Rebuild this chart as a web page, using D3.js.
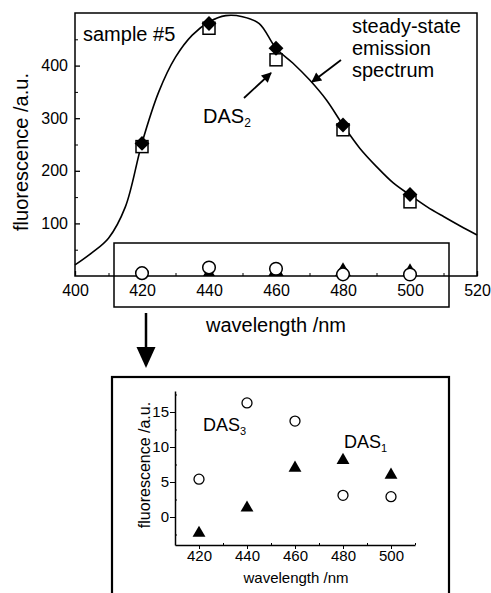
<!DOCTYPE html>
<html>
<head>
<meta charset="utf-8">
<script src="https://cdn.jsdelivr.net/npm/d3@7"></script>
<style>
  body { margin: 0; background: #fff; }
  svg { display: block; }
  text { font-family: "Liberation Sans", Arial, sans-serif; fill: #000; }
  .axis path, .axis line { stroke: #000; }
</style>
</head>
<body>
<div id="chart"></div>
<script>
const width = 491;
const height = 593;

// sampled wavelengths (nm)
const wavelengths = [420, 440, 460, 480, 500];
// steady-state intensity at the sampled wavelengths (filled diamonds)
const steadyPts = [252, 480, 433, 287, 155];
// DAS2 (open squares)
const das2 = [246, 471, 411, 278, 141];
// DAS3 (open circles)
const das3 = [5.4, 16.3, 13.7, 3.1, 2.9];
// DAS1 (filled triangles)
const das1 = [-2.3, 1.3, 7.0, 8.1, 6.0];

// steady-state emission spectrum
const specWl = [400, 405, 410, 415, 420, 425, 430, 435, 440, 445, 450, 455, 460,
  465, 470, 475, 480, 485, 490, 495, 500, 505, 510, 515, 520];
const specVal = [21, 44, 72, 131, 253, 350, 416, 458, 483, 495, 493, 480, 433,
  405, 373, 335, 287, 243, 208, 177, 154, 132, 113, 95, 78];

const mainXTicks = [400, 420, 440, 460, 480, 500, 520];
const mainXMinor = [410, 430, 450, 470, 490, 510];
const mainYTicks = [100, 200, 300, 400];
const mainYMinor = [50, 150, 250, 350, 450];

const insetXTicks = [420, 440, 460, 480, 500];
const insetXMinor = [430, 450, 470, 490, 510];
const insetYTicks = [0, 5, 10, 15];
const insetYMinor = [-2.5, 2.5, 7.5, 12.5, 17.5];

const svg = d3.select("#chart")
  .append("svg")
  .attr("width", width)
  .attr("height", height);

const defs = svg.append("defs");
defs.append("marker")
  .attr("id", "head")
  .attr("viewBox", "0 0 10 10")
  .attr("refX", 9)
  .attr("refY", 5)
  .attr("markerUnits", "userSpaceOnUse")
  .attr("markerWidth", 12)
  .attr("markerHeight", 10)
  .attr("orient", "auto")
  .append("path")
  .attr("d", "M0,0 L10,5 L0,10 Z")
  .attr("fill", "#000");

defs.append("clipPath")
  .attr("id", "plotclip")
  .append("rect")
  .attr("x", 75).attr("y", 13)
  .attr("width", 402).attr("height", 263);

// ---------- main panel ----------
const x = d3.scaleLinear().domain([400, 520]).range([75, 477]);
const y = d3.scaleLinear().domain([0, 500]).range([276, 13]);

const main = svg.append("g");

main.append("rect")
  .attr("x", 75).attr("y", 13)
  .attr("width", 402).attr("height", 263)
  .attr("fill", "none")
  .attr("stroke", "#000")
  .attr("stroke-width", 1.5);

const fmt = d3.format("d");

main.append("g")
  .attr("class", "axis")
  .attr("transform", "translate(75,0)")
  .call(d3.axisLeft(y).tickValues(mainYTicks).tickSize(-5).tickSizeOuter(0).tickPadding(7).tickFormat(fmt))
  .call(g => g.select(".domain").remove())
  .call(g => g.selectAll("line").attr("stroke-width", 1.3))
  .call(g => g.selectAll("text").attr("font-size", 16).attr("font-family", null));

main.append("g")
  .attr("class", "axis")
  .attr("transform", "translate(75,0)")
  .call(d3.axisLeft(y).tickValues(mainYMinor).tickSize(-3).tickFormat(""))
  .call(g => g.select(".domain").remove());

main.append("g")
  .attr("class", "axis")
  .attr("transform", "translate(0,276)")
  .call(d3.axisBottom(x).tickValues(mainXTicks).tickSize(-5).tickSizeOuter(0).tickPadding(9).tickFormat(fmt))
  .call(g => g.select(".domain").remove())
  .call(g => g.selectAll("line").attr("stroke-width", 1.3))
  .call(g => g.selectAll("text").attr("font-size", 16).attr("font-family", null));

main.append("g")
  .attr("class", "axis")
  .attr("transform", "translate(0,276)")
  .call(d3.axisBottom(x).tickValues(mainXMinor).tickSize(-3).tickFormat(""))
  .call(g => g.select(".domain").remove());

// spectrum
const spec = specWl.map((w, i) => [w, specVal[i]]);
main.append("path")
  .datum(spec)
  .attr("fill", "none")
  .attr("stroke", "#000")
  .attr("stroke-width", 1.6)
  .attr("d", d3.line().x(d => x(d[0])).y(d => y(d[1])).curve(d3.curveCatmullRom));

// DAS2 squares
main.selectAll(".sq")
  .data(wavelengths)
  .enter()
  .append("rect")
  .attr("x", (d, i) => x(d) - 6)
  .attr("y", (d, i) => y(das2[i]) - 6)
  .attr("width", 12).attr("height", 12)
  .attr("fill", "#fff")
  .attr("stroke", "#000")
  .attr("stroke-width", 1.5);

// steady-state diamonds
main.selectAll(".dia")
  .data(wavelengths)
  .enter()
  .append("path")
  .attr("transform", (d, i) => `translate(${x(d)},${y(steadyPts[i])}) rotate(45)`)
  .attr("d", d3.symbol().type(d3.symbolSquare).size(110))
  .attr("fill", "#000");

// DAS1 triangles, cut by the axis
main.append("g")
  .attr("clip-path", "url(#plotclip)")
  .selectAll("path")
  .data(wavelengths)
  .enter()
  .append("path")
  .attr("transform", (d, i) => `translate(${x(d)},${y(das1[i])})`)
  .attr("d", d3.symbol().type(d3.symbolTriangle).size(120))
  .attr("fill", "#000");

// DAS3 circles
main.selectAll(".circ")
  .data(wavelengths)
  .enter()
  .append("circle")
  .attr("cx", d => x(d))
  .attr("cy", (d, i) => y(das3[i]))
  .attr("r", 6.3)
  .attr("fill", "#fff")
  .attr("stroke", "#000")
  .attr("stroke-width", 1.5);

// zoom box
main.append("rect")
  .attr("x", 114).attr("y", 243)
  .attr("width", 335).attr("height", 64)
  .attr("fill", "none")
  .attr("stroke", "#000")
  .attr("stroke-width", 1.5);

main.append("text")
  .attr("x", 20)
  .attr("transform", "translate(28,152) rotate(-90)")
  .attr("x", 0)
  .attr("text-anchor", "middle")
  .attr("font-size", 20)
  .text("fluorescence /a.u.");

main.append("text")
  .attr("x", 276).attr("y", 332)
  .attr("text-anchor", "middle")
  .attr("font-size", 20)
  .text("wavelength /nm");

main.append("text")
  .attr("x", 83).attr("y", 41)
  .attr("font-size", 20)
  .text("sample #5");

const ss = main.append("text")
  .attr("x", 352)
  .attr("font-size", 20);
["steady-state", "emission", "spectrum"].forEach((t, i) => {
  ss.append("tspan").attr("x", 352).attr("y", 33 + i * 22).text(t);
});

const das2Label = main.append("text")
  .attr("x", 203).attr("y", 123)
  .attr("font-size", 20);
das2Label.append("tspan").text("DAS");
das2Label.append("tspan").attr("font-size", 12).attr("dy", 4).text("2");

main.append("line")
  .attr("x1", 244).attr("y1", 98)
  .attr("x2", 271).attr("y2", 73)
  .attr("stroke", "#000")
  .attr("stroke-width", 1.8)
  .attr("marker-end", "url(#head)");

main.append("line")
  .attr("x1", 341).attr("y1", 60)
  .attr("x2", 312).attr("y2", 82)
  .attr("stroke", "#000")
  .attr("stroke-width", 1.8)
  .attr("marker-end", "url(#head)");

// big arrow down to the inset
svg.append("line")
  .attr("x1", 146).attr("y1", 313)
  .attr("x2", 146).attr("y2", 350)
  .attr("stroke", "#000")
  .attr("stroke-width", 2.5);
svg.append("path")
  .attr("d", "M136.5,347 L155.5,347 L146,368 Z")
  .attr("fill", "#000");

// ---------- inset ----------
svg.append("rect")
  .attr("x", 112).attr("y", 377)
  .attr("width", 337).attr("height", 240)
  .attr("fill", "none")
  .attr("stroke", "#000")
  .attr("stroke-width", 2.2);

const xi = d3.scaleLinear().domain([410, 510]).range([175, 415]);
const yi = d3.scaleLinear().domain([-4, 18]).range([545, 391]);

const inset = svg.append("g");

inset.append("g")
  .attr("class", "axis")
  .attr("transform", "translate(175,0)")
  .call(d3.axisLeft(yi).tickValues(insetYTicks).tickSize(5).tickSizeOuter(0).tickPadding(1).tickFormat(fmt))
  .call(g => g.select(".domain").attr("stroke-width", 1.5))
  .call(g => g.selectAll("text").attr("font-size", 15).attr("font-family", null));

inset.append("g")
  .attr("class", "axis")
  .attr("transform", "translate(175,0)")
  .call(d3.axisLeft(yi).tickValues(insetYMinor).tickSize(-2).tickFormat(""))
  .call(g => g.select(".domain").remove());

inset.append("g")
  .attr("class", "axis")
  .attr("transform", "translate(0,545)")
  .call(d3.axisBottom(xi).tickValues(insetXTicks).tickSize(4).tickSizeOuter(0).tickPadding(1).tickFormat(fmt))
  .call(g => g.select(".domain").attr("stroke-width", 1.5))
  .call(g => g.selectAll("text").attr("font-size", 15).attr("font-family", null));

inset.append("g")
  .attr("class", "axis")
  .attr("transform", "translate(0,545)")
  .call(d3.axisBottom(xi).tickValues(insetXMinor).tickSize(-2).tickFormat(""))
  .call(g => g.select(".domain").remove());

inset.selectAll(".tri")
  .data(wavelengths)
  .enter()
  .append("path")
  .attr("transform", (d, i) => `translate(${xi(d)},${yi(das1[i])})`)
  .attr("d", d3.symbol().type(d3.symbolTriangle).size(72))
  .attr("fill", "#000");

inset.selectAll(".c")
  .data(wavelengths)
  .enter()
  .append("circle")
  .attr("cx", d => xi(d))
  .attr("cy", (d, i) => yi(das3[i]))
  .attr("r", 5)
  .attr("fill", "#fff")
  .attr("stroke", "#000")
  .attr("stroke-width", 1.3);

inset.append("text")
  .attr("transform", "translate(150,465) rotate(-90)")
  .attr("text-anchor", "middle")
  .attr("font-size", 16)
  .text("fluorescence /a.u.");

inset.append("text")
  .attr("x", 296).attr("y", 583)
  .attr("text-anchor", "middle")
  .attr("font-size", 15)
  .text("wavelength /nm");

const d3Label = inset.append("text")
  .attr("x", 203).attr("y", 431)
  .attr("font-size", 18);
d3Label.append("tspan").text("DAS");
d3Label.append("tspan").attr("font-size", 11).attr("dy", 4).text("3");

const d1Label = inset.append("text")
  .attr("x", 344).attr("y", 448)
  .attr("font-size", 18);
d1Label.append("tspan").text("DAS");
d1Label.append("tspan").attr("font-size", 11).attr("dy", 4).text("1");
</script>
</body>
</html>
